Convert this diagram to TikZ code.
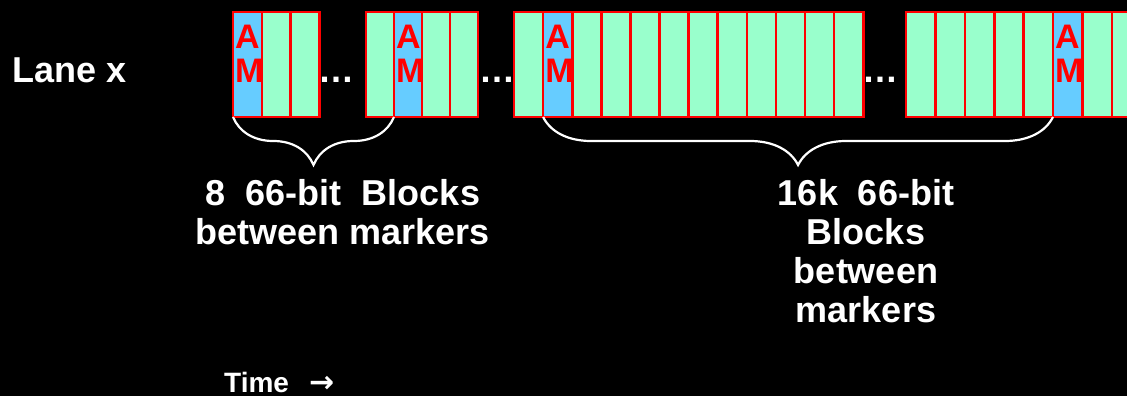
\documentclass[tikz,border=0pt]{standalone}
\usepackage{fontspec}
\setmainfont{Liberation Sans}
\newfontfamily\arrowfont{DejaVu Sans}
\usepackage{tikz}
\usetikzlibrary{decorations.pathreplacing}
\definecolor{blockgreen}{RGB}{153,255,204}
\definecolor{amblue}{RGB}{102,204,255}
\newcommand*\cellw{29}
\tikzset{
    block/.style={draw=red, fill=blockgreen, line width=2.6pt, inner sep=0pt, outer sep=0pt,
        minimum width=\cellw pt, minimum height=105pt},
    amblock/.style={block, fill=amblue},
    amtext/.style={anchor=base west, inner sep=0pt, align=left, text=red,
        font=\fontsize{34}{34}\selectfont\bfseries, xshift=2pt, yshift=-70pt},
    gapdots/.style={anchor=base west, inner sep=0pt, text=white,
        font=\fontsize{36}{36}\selectfont\bfseries},
    spanbrace/.style={draw=white, line width=2.2pt, decorate,
        decoration={brace, mirror, amplitude=48pt}},
    caption/.style={anchor=north, align=center, inner sep=0pt, text=white,
        font=\fontsize{36}{39}\selectfont\bfseries},
}

\begin{document}
\begin{tikzpicture}[x=1pt, y=-1pt]
	\fill[black] (0,0) rectangle (1127,396);
	\useasboundingbox (0,0) rectangle (1127,396);
	\node[anchor=base west, inner sep=0pt, text=white, font=\fontsize{36}{36}\selectfont\bfseries]
		(lane) at (12,82) {Lane x};
% first lane section
\begin{scope}[shift={(233,0)}]
	\renewcommand*\cellw{28.8}
	\foreach \i in {1,2}
		\node[block] (g1c\i) at ({(\i+0.5)*\cellw},64.5) {};
	\node[amblock] (am1) at ({0.5*\cellw},64.5) {};
	\node[amtext] (am1txt) at (am1.north west) {A\\M};
\end{scope}
\begin{scope}[shift={(366,0)}]
	\renewcommand*\cellw{28}
	\foreach \i in {0,2,3}
		\node[block] (g2c\i) at ({(\i+0.5)*\cellw},64.5) {};
	\node[amblock] (am2) at ({1.5*\cellw},64.5) {};
	\node[amtext] (am2txt) at (am2.north west) {A\\M};
\end{scope}
\begin{scope}[shift={(514,0)}]
	\renewcommand*\cellw{29.1}
	\foreach \i in {0,2,3,...,11}
		\node[block] (g3c\i) at ({(\i+0.5)*\cellw},64.5) {};
	\node[amblock] (am3) at ({1.5*\cellw},64.5) {};
	\node[amtext] (am3txt) at (am3.north west) {A\\M};
\end{scope}
\begin{scope}[shift={(906,0)}]
	\renewcommand*\cellw{29.4}
	\foreach \i in {0,...,4,6,7}
		\node[block] (g4c\i) at ({(\i+0.5)*\cellw},64.5) {};
	\node[amblock] (am4) at ({5.5*\cellw},64.5) {};
	\node[amtext] (am4txt) at (am4.north west) {A\\M};
\end{scope}
	% skipped blocks
	\node[gapdots] (dots1) at (318,82) {…};
	\node[gapdots] (dots2) at (479,82) {…};
	\node[gapdots] (dots3) at (862,82) {…};
	% spacing of the alignment markers
	\draw[spanbrace] (am1.south west) -- (am2.south west);
	\draw[spanbrace] (am3.south west) -- (am4.south west);
	\node[caption] (span1) at (343,179) {8~~66-bit~~Blocks\\between markers};
	\node[caption] (span2) at (866,179) {16k~~66-bit\\Blocks\\between\\markers};
	\node[anchor=base west, inner sep=0pt, text=white, font=\fontsize{28}{28}\selectfont\bfseries]
		(time) at (224,392) {Time\hspace{20pt}{\arrowfont\fontsize{30}{30}\selectfont →}};
\end{tikzpicture}
\end{document}
